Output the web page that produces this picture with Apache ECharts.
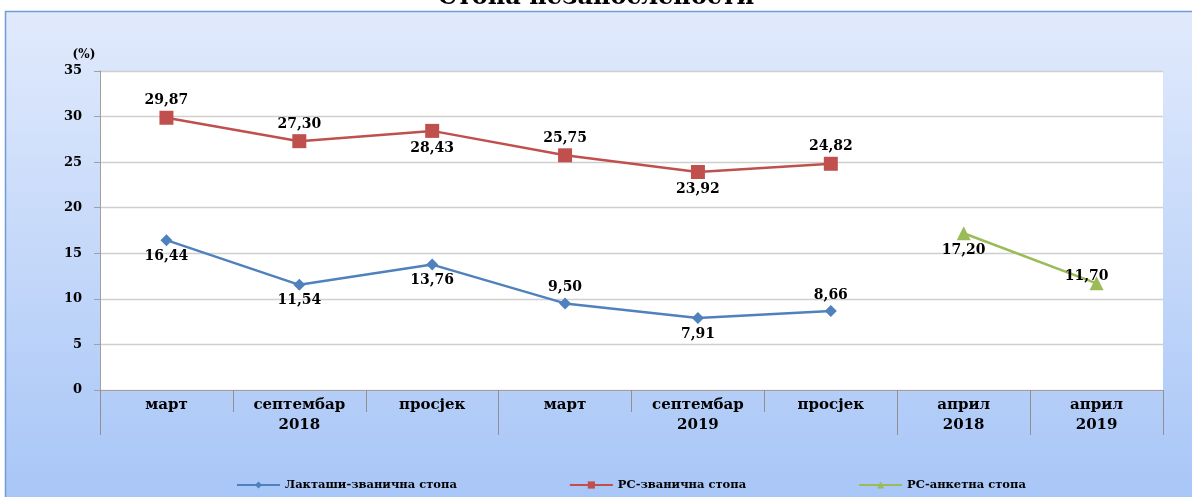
<!DOCTYPE html>
<html>
<head>
<meta charset="utf-8">
<style>
  html, body { margin: 0; padding: 0; background: #fff; overflow: hidden; }
  #chart { width: 1192px; height: 497px; }
</style>
<script src="https://cdn.jsdelivr.net/npm/echarts@6/dist/echarts.min.js"></script>
</head>
<body>
<div id="chart"></div>
<script>
// категорије (мјесеци) и године испод њих
const categories = ['март', 'септембар', 'просјек', 'март', 'септембар', 'просјек', 'април', 'април'];
const yearLabels = ['', '2018', '', '', '2019', '', '2018', '2019'];
const groupStarts = [0, 3, 6, 7];

const laktasi = [16.44, 11.54, 13.76, 9.50, 7.91, 8.66, null, null];
const rsZvanicna = [29.87, 27.30, 28.43, 25.75, 23.92, 24.82, null, null];
const rsAnketna = [null, null, null, null, null, null, 17.20, 11.70];

// гдје стоји етикета уз тачку
const laktasiPos = ['bottom', 'bottom', 'bottom', 'top', 'bottom', 'top', '', ''];
const rsZvanicnaPos = ['top', 'top', 'bottom', 'top', 'bottom', 'top', '', ''];
const rsAnketnaPos = ['', '', '', '', '', '', 'bottom', 'top'];
const rsAnketnaOffset = [null, null, null, null, null, null, [0, 0], [-10, 10]];

const serif = 'DejaVu Serif';

const fmt = (p) => p.value == null ? '' : p.value.toFixed(2).replace('.', ',');

const toData = (vals, pos, off) => vals.map((v, i) => ({
  value: v,
  label: { position: pos[i] || 'top', offset: (off && off[i]) || [0, 0] }
}));

const chart = echarts.init(document.getElementById('chart'));

const labelStyle = {
  show: true,
  formatter: fmt,
  fontFamily: serif,
  fontWeight: 'bold',
  fontSize: 14,
  color: '#000',
  distance: 3
};

const option = {
  animation: false,
  title: {
    text: 'Стопа незапослености',
    left: 'center',
    top: -19,
    textStyle: { fontFamily: serif, fontWeight: 'bold', fontSize: 24, color: '#000' }
  },
  graphic: [{
    type: 'rect',
    z: -10,
    silent: true,
    shape: { x: 5, y: 11, width: 1187, height: 486 },
    style: {
      fill: new echarts.graphic.LinearGradient(0, 0, 0, 1, [
        { offset: 0, color: '#e1eafc' },
        { offset: 1, color: '#a8c6f7' }
      ])
    }
  }, {
    type: 'polyline',
    z: -9,
    silent: true,
    shape: { points: [[5.5, 497], [5.5, 11.5], [1192, 11.5]] },
    style: { stroke: '#6f9bd8', lineWidth: 1.5, fill: null }
  }],
  grid: {
    left: 100, right: 29, top: 71, bottom: 107,
    show: true, backgroundColor: '#fff', borderWidth: 0
  },
  legend: {
    left: 236,
    top: 479,
    padding: 0,
    itemWidth: 43,
    itemHeight: 9,
    itemGap: 112,
    textStyle: { fontFamily: serif, fontWeight: 'bold', fontSize: 11.5, color: '#000' },
    data: ['Лакташи-званична стопа', 'РС-званична стопа', 'РС-анкетна стопа']
  },
  xAxis: [{
    type: 'category',
    data: categories,
    axisLine: { lineStyle: { color: '#a0a0a0' } },
    axisTick: { show: true, length: 22, interval: 0, lineStyle: { color: '#909090' } },
    axisLabel: { interval: 0, margin: 8, fontFamily: serif, fontWeight: 'bold', fontSize: 15, color: '#000' }
  }, {
    type: 'category',
    position: 'bottom',
    data: yearLabels,
    axisLine: { show: false },
    axisTick: {
      show: true,
      length: 45,
      interval: (i) => groupStarts.includes(i),
      lineStyle: { color: '#909090' }
    },
    axisLabel: { interval: 0, margin: 28, fontFamily: serif, fontWeight: 'bold', fontSize: 15, color: '#000' }
  }],
  yAxis: {
    type: 'value',
    min: 0, max: 35, interval: 5,
    name: '(%)',
    nameGap: 10,
    nameTextStyle: { fontFamily: serif, fontWeight: 'bold', fontSize: 12, color: '#000', padding: [0, 32, 0, 0] },
    axisLine: { show: true, lineStyle: { color: '#a0a0a0' } },
    axisTick: { show: true, length: 6, lineStyle: { color: '#a0a0a0' } },
    axisLabel: { margin: 18, fontFamily: serif, fontWeight: 'bold', fontSize: 13, color: '#000' },
    splitLine: { lineStyle: { color: '#cfcfcf', width: 1.3 } }
  },
  series: [{
    name: 'Лакташи-званична стопа',
    type: 'line',
    data: toData(laktasi, laktasiPos),
    symbol: 'diamond',
    symbolSize: 12,
    itemStyle: { color: '#4f81bd' },
    lineStyle: { width: 2.5, color: '#4f81bd' },
    label: labelStyle
  }, {
    name: 'РС-званична стопа',
    type: 'line',
    data: toData(rsZvanicna, rsZvanicnaPos),
    symbol: 'rect',
    symbolSize: 14,
    itemStyle: { color: '#c0504d' },
    lineStyle: { width: 2.5, color: '#c0504d' },
    label: labelStyle
  }, {
    name: 'РС-анкетна стопа',
    type: 'line',
    data: toData(rsAnketna, rsAnketnaPos, rsAnketnaOffset),
    symbol: 'triangle',
    symbolSize: 14,
    itemStyle: { color: '#9bbb59' },
    lineStyle: { width: 2.5, color: '#9bbb59' },
    label: labelStyle
  }]
};

chart.setOption(option);
</script>
</body>
</html>
